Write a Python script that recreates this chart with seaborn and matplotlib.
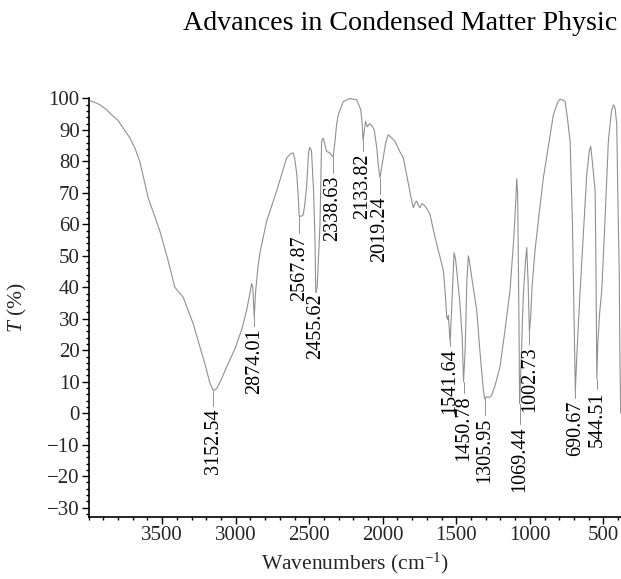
import matplotlib
matplotlib.use("Agg")
import matplotlib.pyplot as plt
import seaborn as sns
import pandas as pd
from matplotlib.ticker import MultipleLocator

# ---- data ----
wavenumber = [3992, 3950, 3924, 3880, 3844, 3800, 3765, 3720, 3686, 3652, 3595, 3516, 3460, 3414,
              3357, 3289, 3210, 3175, 3152, 3130, 3100, 3062, 3005, 2960, 2926, 2900, 2892, 2884,
              2874, 2866, 2850, 2835, 2790, 2722, 2654, 2625, 2609, 2599, 2585, 2575, 2568, 2550,
              2541, 2530, 2518, 2505, 2497, 2485, 2470, 2461, 2455.6, 2446, 2427, 2416, 2405, 2382,
              2359, 2338, 2325, 2314, 2303, 2269, 2223, 2178, 2150, 2140, 2134, 2125, 2117, 2105,
              2090, 2076, 2058, 2040, 2031, 2019, 2008, 1997, 1980, 1963, 1940, 1917, 1883, 1860,
              1837, 1815, 1803, 1792, 1780, 1769, 1758, 1747, 1735, 1724, 1700, 1679, 1655, 1633,
              1610, 1588, 1575, 1565, 1558, 1554, 1548, 1541.6, 1530, 1515, 1505, 1490, 1475, 1460,
              1450.8, 1440, 1428, 1418, 1410, 1385, 1361, 1340, 1316, 1306, 1293, 1275, 1259, 1235,
              1203, 1170, 1135, 1110, 1095, 1089, 1083, 1075, 1069.4, 1060, 1045, 1030, 1021, 1012,
              1003, 995, 985, 965, 940, 908, 870, 840, 810, 795, 775, 760, 745, 726, 710, 697, 690.7,
              681, 670, 658, 635, 613, 595, 586, 575, 556, 550, 544.5, 538, 525, 511, 490, 466, 445,
              432, 420, 409, 400, 392, 388, 382]
transmittance = [99.3, 98.6, 98.0, 96.5, 94.8, 93.0, 90.6, 87.5, 84.3, 79.9, 68.4, 57.9, 48.5, 40.0,
                 36.8, 28.4, 15.7, 9.5, 7.2, 7.8, 10.5, 14.7, 20.5, 26.5, 32.6, 39.0, 41.2, 40.0,
                 30.5, 38.0, 46.0, 51.0, 61.0, 70.6, 81.1, 82.5, 82.7, 81.0, 76.0, 69.0, 62.5, 62.7,
                 63.0, 66.5, 72.0, 82.5, 84.5, 83.5, 70.0, 55.0, 38.5, 40.0, 60.0, 86.4, 87.4, 83.2,
                 82.7, 81.3, 86.4, 91.7, 94.8, 99.0, 100.0, 99.6, 96.5, 92.0, 86.6, 90.0, 92.7, 91.0,
                 92.0, 91.5, 90.0, 84.0, 79.0, 74.8, 78.0, 81.1, 86.0, 88.5, 87.5, 86.4, 83.0, 81.1,
                 75.5, 70.0, 67.4, 65.3, 66.8, 67.4, 66.0, 65.3, 66.5, 66.4, 65.0, 63.2, 58.0, 53.7,
                 49.5, 45.3, 38.0, 30.5, 29.8, 31.0, 27.0, 22.5, 35.0, 51.0, 49.0, 42.0, 34.7, 24.0,
                 10.0, 20.0, 42.0, 50.0, 48.0, 40.0, 32.6, 20.0, 7.3, 4.5, 5.2, 5.0, 5.7, 9.0,
                 14.7, 26.0, 38.9, 55.0, 68.0, 74.5, 70.0, 35.0, 3.0, 15.0, 36.8, 48.0, 52.6, 42.0,
                 26.0, 30.0, 40.0, 51.6, 62.0, 74.8, 86.0, 94.8, 98.8, 99.8, 99.5, 99.0, 94.0, 86.4,
                 60.0, 25.0, 7.0, 17.8, 28.0, 38.9, 58.0, 75.8, 83.5, 84.8, 80.0, 70.6, 45.0, 11.0,
                 22.0, 32.0, 38.9, 60.0, 86.4, 96.0, 98.0, 97.0, 91.7, 65.0, 45.0, 20.0, 0.0]

peak_labels = ["3152.54", "2874.01", "2567.87", "2455.62", "2338.63", "2133.82", "2019.24",
               "1541.64", "1450.78", "1305.95", "1069.44", "1002.73", "690.67", "544.51"]
peak_pos = [3152.54, 2874.01, 2567.87, 2455.62, 2338.63, 2133.82, 2019.24,
            1541.64, 1450.78, 1305.95, 1069.44, 1002.73, 690.67, 544.51]
peak_T = [7.2, 30.5, 62.5, 38.5, 81.3, 86.6, 74.8, 22.5, 10.0, 4.5, 3.0, 26.0, 7.0, 11.0]
label_T = [1.6, 26.9, 56.6, 38.0, 75.6, 82.6, 69.0, 20.6, 5.7, -1.3, -4.1, 21.2, 4.1, 7.0]

x_ticks = [3500, 3000, 2500, 2000, 1500, 1000, 500]
y_ticks = [100, 90, 80, 70, 60, 50, 40, 30, 20, 10, 0, -10, -20, -30]

# ---- style ----
sns.set_theme(style="ticks")
plt.rcParams["font.family"] = ["Liberation Serif", "DejaVu Serif"]
plt.rcParams["mathtext.fontset"] = "custom"
plt.rcParams["mathtext.rm"] = "Liberation Serif"
plt.rcParams["mathtext.it"] = "Liberation Serif:italic"
plt.rcParams["axes.unicode_minus"] = True

fig = plt.figure(figsize=(6.21, 5.79), dpi=100)
ax = fig.add_axes([0.1428, 0.107, 0.8572, 0.7229])

df = pd.DataFrame({"wn": wavenumber, "T": transmittance})
sns.lineplot(data=df, x="wn", y="T", ax=ax, color="#909090", linewidth=0.8,
             estimator=None, sort=False)

# peak leaders and labels
gray = "#909090"
for lab, xp, yp, yl in zip(peak_labels, peak_pos, peak_T, label_T):
    ax.plot([xp, xp], [yp, yl + 0.8], color=gray, linewidth=0.7)
    ax.text(xp, yl, lab, rotation=90, ha="center", va="top", fontsize=14.5, color="black")

ax.set_xlim(4000, 380)
ax.set_ylim(-33, 100)
ax.set_xticks(x_ticks)
ax.set_yticks(y_ticks)
ax.xaxis.set_minor_locator(MultipleLocator(100))
ax.yaxis.set_minor_locator(MultipleLocator(2))
ax.tick_params(axis="both", which="major", direction="out", length=5, width=1,
               labelsize=15, pad=1.5, color="black")
ax.tick_params(axis="both", which="minor", direction="out", length=2.5, width=1, color="black")
for s in ["top", "right"]:
    ax.spines[s].set_visible(False)
for s in ["left", "bottom"]:
    ax.spines[s].set_color("black")
    ax.spines[s].set_linewidth(1.2)

ax.set_xlabel("Wavenumbers (cm$^{-1}$)", fontsize=15.5)
ax.set_ylabel("$T$ (%)", fontsize=15.5)
ax.xaxis.set_label_coords(0.5, -0.081)
ax.yaxis.set_label_coords(-0.112, 0.5)

fig.text(183 / 621, 1 - 23 / 579, "Advances in Condensed Matter Physic", fontsize=20.2,
         ha="left", va="center", color="black")

fig.savefig("out.png", dpi=100)
